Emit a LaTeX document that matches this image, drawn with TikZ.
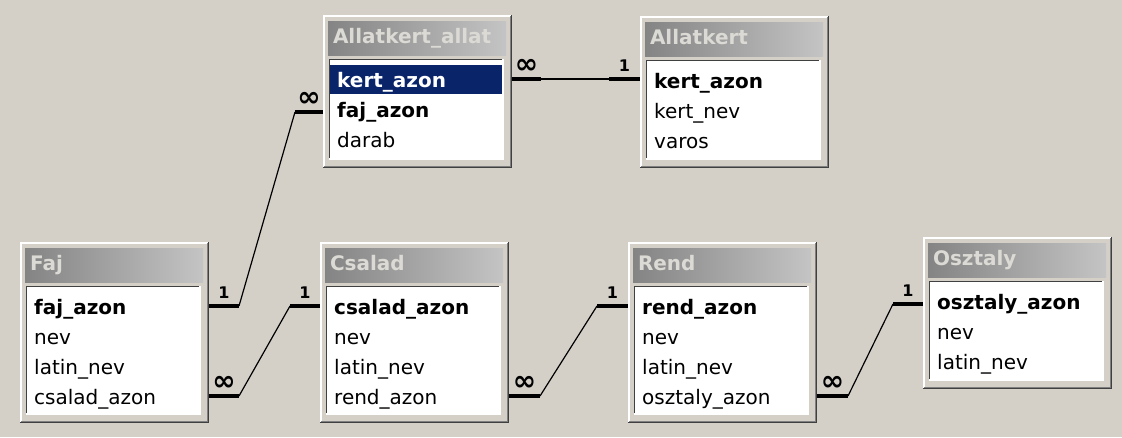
\documentclass[tikz,border=0pt]{standalone}
\usepackage{fontspec}
\setmainfont{DejaVu Sans}
\usetikzlibrary{positioning}
\definecolor{winbg}{HTML}{D4D0C8}
\definecolor{winshadow}{HTML}{808080}
\definecolor{windark}{HTML}{404040}
\definecolor{titledark}{HTML}{848484}
\definecolor{titlelight}{HTML}{C4C4C4}
\definecolor{titletext}{HTML}{DCDAD4}
\definecolor{selblue}{HTML}{0A246A}
\tikzset{auto, x=1pt, y=-1pt, font=\fontsize{20}{20}\selectfont}
\tikzstyle{table} = [rectangle, fill=winbg, anchor=north west, minimum width=189pt, inner sep=0pt, outer sep=0pt]
\tikzstyle{titlebar} = [rectangle, left color=titledark, right color=titlelight, minimum height=34pt, text width=168pt, inner xsep=5pt, inner ysep=0pt, outer sep=0pt, align=left, text=titletext, font=\fontsize{20}{20}\selectfont\bfseries, text height=15pt, text depth=4pt]
\tikzstyle{fieldlist} = [rectangle, fill=white, minimum width=172pt, inner sep=0pt, outer sep=0pt]
\tikzstyle{field} = [anchor=west, inner sep=0pt, text height=15pt, text depth=5pt]
\tikzstyle{key} = [field, font=\fontsize{20}{20}\selectfont\bfseries]
\tikzstyle{stub} = [line width=4pt]
\tikzstyle{link} = [line width=1.2pt]
\tikzstyle{one} = [above=6pt, inner sep=0pt, font=\fontsize{16}{16}\selectfont\bfseries]
\tikzstyle{many} = [above=4pt, inner sep=0pt, font=\fontsize{28}{28}\selectfont\bfseries]
\newcommand{\winraised}[1]{%
  \draw [white, line width=2pt] ([xshift=1pt, yshift=1pt]#1.south west) |- ([xshift=-1pt, yshift=-1pt]#1.north east);
  \draw [winshadow, line width=2pt] ([xshift=1pt, yshift=1pt]#1.south west) -| ([xshift=-1pt, yshift=-1pt]#1.north east);
  \draw [windark, line width=1pt] ([yshift=0.5pt]#1.south west) -| ([xshift=-0.5pt]#1.north east);}
\newcommand{\winsunken}[1]{%
  \draw [windark, line width=1.5pt] ([xshift=-0.75pt, yshift=-0.75pt]#1.south west) |- ([xshift=0.75pt, yshift=0.75pt]#1.north east);
  \draw [white, line width=1.5pt] ([xshift=-0.75pt, yshift=-0.75pt]#1.south west) -| ([xshift=0.75pt, yshift=0.75pt]#1.north east);}

\begin{document}
\begin{tikzpicture}
			\useasboundingbox (0,0) rectangle (1122,437);
			\fill [winbg] (0,0) rectangle (1122,437);

			\node [table, minimum height=153pt] at (323,15) (aa) {};
			\node [table, minimum height=152pt] at (640,16) (ak) {};
			\node [table, minimum height=181pt] at (20,242) (faj) {};
			\node [table, minimum height=181pt] at (320,242) (csalad) {};
			\node [table, minimum height=181pt] at (628,242) (rend) {};
			\node [table, minimum height=152pt] at (923,237) (osztaly) {};
			\winraised{aa}
			\winraised{ak}
			\winraised{faj}
			\winraised{csalad}
			\winraised{rend}
			\winraised{osztaly}

			\node [titlebar, below right=6pt and 5pt of aa.north west] (aa_title) {Allatkert\_allat};
			\node [titlebar, below right=6pt and 5pt of ak.north west] (ak_title) {Allatkert};
			\node [titlebar, below right=6pt and 5pt of faj.north west] (faj_title) {Faj};
			\node [titlebar, below right=6pt and 5pt of csalad.north west] (csalad_title) {Csalad};
			\node [titlebar, below right=6pt and 5pt of rend.north west] (rend_title) {Rend};
			\node [titlebar, below right=6pt and 5pt of osztaly.north west] (osztaly_title) {Osztaly};

			\node [fieldlist, minimum height=98pt, below right=5pt and 2pt of aa_title.south west] (aa_list) {};
			\node [fieldlist, minimum height=97pt, below right=5pt and 2pt of ak_title.south west] (ak_list) {};
			\node [fieldlist, minimum height=126pt, below right=5pt and 2pt of faj_title.south west] (faj_list) {};
			\node [fieldlist, minimum height=126pt, below right=5pt and 2pt of csalad_title.south west] (csalad_list) {};
			\node [fieldlist, minimum height=126pt, below right=5pt and 2pt of rend_title.south west] (rend_list) {};
			\node [fieldlist, minimum height=97pt, below right=5pt and 2pt of osztaly_title.south west] (osztaly_list) {};
			\winsunken{aa_list}
			\winsunken{ak_list}
			\winsunken{faj_list}
			\winsunken{csalad_list}
			\winsunken{rend_list}
			\winsunken{osztaly_list}

			\fill [selblue] ([yshift=-5pt]aa_list.north west) rectangle ([yshift=-34pt]aa_list.north east);
			\node [key, text=white] at ([xshift=7pt, yshift=-22pt]aa_list.north west) (aa_kert_azon) {kert\_azon};
			\node [key] at ([yshift=-30pt]aa_kert_azon.west) (aa_faj_azon) {faj\_azon};
			\node [field] at ([yshift=-30pt]aa_faj_azon.west) (aa_darab) {darab};

			\node [key] at ([xshift=7pt, yshift=-22pt]ak_list.north west) (ak_kert_azon) {kert\_azon};
			\node [field] at ([yshift=-30pt]ak_kert_azon.west) (ak_kert_nev) {kert\_nev};
			\node [field] at ([yshift=-30pt]ak_kert_nev.west) (ak_varos) {varos};

			\node [key] at ([xshift=7pt, yshift=-22pt]faj_list.north west) (faj_faj_azon) {faj\_azon};
			\node [field] at ([yshift=-30pt]faj_faj_azon.west) (faj_nev) {nev};
			\node [field] at ([yshift=-30pt]faj_nev.west) (faj_latin_nev) {latin\_nev};
			\node [field] at ([yshift=-30pt]faj_latin_nev.west) (faj_csalad_azon) {csalad\_azon};

			\node [key] at ([xshift=7pt, yshift=-22pt]csalad_list.north west) (csalad_csalad_azon) {csalad\_azon};
			\node [field] at ([yshift=-30pt]csalad_csalad_azon.west) (csalad_nev) {nev};
			\node [field] at ([yshift=-30pt]csalad_nev.west) (csalad_latin_nev) {latin\_nev};
			\node [field] at ([yshift=-30pt]csalad_latin_nev.west) (csalad_rend_azon) {rend\_azon};

			\node [key] at ([xshift=7pt, yshift=-22pt]rend_list.north west) (rend_rend_azon) {rend\_azon};
			\node [field] at ([yshift=-30pt]rend_rend_azon.west) (rend_nev) {nev};
			\node [field] at ([yshift=-30pt]rend_nev.west) (rend_latin_nev) {latin\_nev};
			\node [field] at ([yshift=-30pt]rend_latin_nev.west) (rend_osztaly_azon) {osztaly\_azon};

			\node [key] at ([xshift=7pt, yshift=-22pt]osztaly_list.north west) (osztaly_osztaly_azon) {osztaly\_azon};
			\node [field] at ([yshift=-30pt]osztaly_osztaly_azon.west) (osztaly_nev) {nev};
			\node [field] at ([yshift=-30pt]osztaly_nev.west) (osztaly_latin_nev) {latin\_nev};

			\coordinate (aa_kert_many) at ([xshift=29pt, yshift=3pt]aa.east |- aa_kert_azon);
			\coordinate (ak_kert_one) at ([xshift=-31pt]ak.west |- aa_kert_many);
			\draw [stub] (aa.east |- aa_kert_many) -- node [many] {∞} (aa_kert_many);
			\draw [link] (aa_kert_many) -- (ak_kert_one);
			\draw [stub] (ak_kert_one) -- node [one] {1} (ak.west |- ak_kert_one);

			\coordinate (faj_faj_one) at ([xshift=30pt, yshift=3pt]faj.east |- faj_faj_azon);
			\coordinate (aa_faj_many) at ([xshift=-28pt]aa.west |- aa_faj_azon);
			\draw [stub] (faj.east |- faj_faj_one) -- node [one] {1} (faj_faj_one);
			\draw [link] (faj_faj_one) -- (aa_faj_many);
			\draw [stub] (aa_faj_many) -- node [many] {∞} (aa.west |- aa_faj_azon);

			\coordinate (faj_csalad_many) at ([xshift=30pt, yshift=3pt]faj.east |- faj_csalad_azon);
			\coordinate (csalad_csalad_one) at ([xshift=-30pt, yshift=3pt]csalad.west |- csalad_csalad_azon);
			\draw [stub] (faj.east |- faj_csalad_many) -- node [many] {∞} (faj_csalad_many);
			\draw [link] (faj_csalad_many) -- (csalad_csalad_one);
			\draw [stub] (csalad_csalad_one) -- node [one] {1} (csalad.west |- csalad_csalad_one);

			\coordinate (csalad_rend_many) at ([xshift=31pt, yshift=3pt]csalad.east |- csalad_rend_azon);
			\coordinate (rend_rend_one) at ([xshift=-31pt, yshift=3pt]rend.west |- rend_rend_azon);
			\draw [stub] (csalad.east |- csalad_rend_many) -- node [many] {∞} (csalad_rend_many);
			\draw [link] (csalad_rend_many) -- (rend_rend_one);
			\draw [stub] (rend_rend_one) -- node [one] {1} (rend.west |- rend_rend_one);

			\coordinate (rend_osztaly_many) at ([xshift=31pt, yshift=3pt]rend.east |- rend_osztaly_azon);
			\coordinate (osztaly_osztaly_one) at ([xshift=-30pt]osztaly.west |- osztaly_osztaly_azon);
			\draw [stub] (rend.east |- rend_osztaly_many) -- node [many] {∞} (rend_osztaly_many);
			\draw [link] (rend_osztaly_many) -- (osztaly_osztaly_one);
			\draw [stub] (osztaly_osztaly_one) -- node [one] {1} (osztaly.west |- osztaly_osztaly_azon);
		\end{tikzpicture}
\end{document}
